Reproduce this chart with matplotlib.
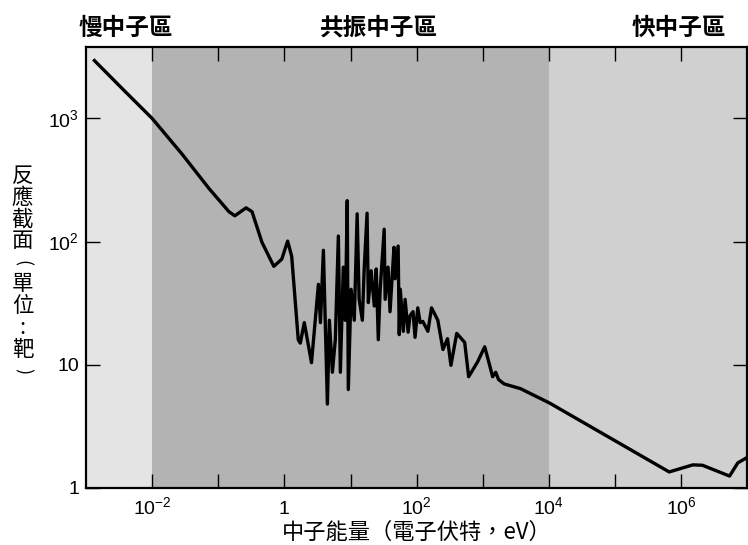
import numpy as np
import matplotlib.pyplot as plt
from matplotlib.ticker import FixedLocator, FixedFormatter, NullLocator
import matplotlib.transforms as mtransforms

plt.rcParams['font.family'] = ['Liberation Sans', 'Noto Sans CJK TC']
plt.rcParams['mathtext.fontset'] = 'custom'
plt.rcParams['mathtext.rm'] = 'Liberation Sans'
plt.rcParams['mathtext.it'] = 'Liberation Sans:italic'
plt.rcParams['axes.unicode_minus'] = False

# neutron energy (eV) and cross section (barn)
energy = [0.00134, 0.00355, 0.01, 0.0282, 0.0724, 0.145, 0.178, 0.263, 0.324,
          0.457, 0.692, 0.912, 1.12, 1.29, 1.62, 1.74, 2.0, 2.57, 3.27, 3.51,
          3.89, 4.47, 4.79, 5.32, 5.89, 6.55, 7.02, 7.78, 8.33, 8.92, 9.26,
          10.2, 11.4, 12.6, 13.5, 15.1, 16.1, 17.8, 18.6, 20.5, 22.9, 24.5,
          26.3, 28.1, 32.3, 33.4, 37.0, 39.6, 45.4, 47.3, 52.5, 54.6, 56.6,
          62.8, 66.9, 74.3, 79.4, 88.2, 94.6, 104, 113, 124, 148, 168, 209,
          250, 293, 330, 404, 533, 612, 838, 1070, 1230, 1410, 1570, 1730,
          2100, 3730, 10200, 660000, 1500000, 2100000, 5400000, 7200000, 9800000]
sigma = [2950, 1740, 1000, 515, 270, 175, 162, 188, 175,
         99, 63, 72, 101, 76, 16, 15, 22, 10.4, 45, 22,
         85, 4.8, 23, 8.7, 16, 111, 8.7, 62, 23, 215, 6.3,
         41, 23, 168, 34, 23, 60, 170, 32, 58, 30, 60,
         16, 41, 126, 34, 62, 27, 90, 50, 92, 17.6, 41,
         18.7, 34, 18.4, 25, 27, 16.7, 29, 22, 22.5, 18.7, 29, 23,
         13.3, 16.3, 9.9, 18, 15.2, 8.0, 10.6, 14, 10.6, 8.0, 8.7, 7.6,
         7.0, 6.4, 4.9, 1.35, 1.54, 1.53, 1.25, 1.6, 1.76]

region_edges = [1e-3, 1e-2, 1e4, 1e7]
region_names = ['慢中子區', '共振中子區', '快中子區']
region_colors = ['#e4e4e4', '#b3b3b3', '#d0d0d0']
region_label_x = [10**-2.4, 10**1.43, 10**5.97]

xtick_pos = [10.0**k for k in range(-2, 7)]
xtick_labels = ['$10^{-2}$', '', '1', '', '$10^{2}$', '', '$10^{4}$', '', '$10^{6}$']
ytick_pos = [1, 10, 100, 1000]
ytick_labels = ['1', '10', '$10^{2}$', '$10^{3}$']

xlabel = '中子能量（電子伏特，eV）'
# vertical y label: (char, rotation)
ylabel_chars = [('反', 0), ('應', 0), ('截', 0), ('面', 0), ('(', -90), ('單', 0),
                ('位', 0), (':', 0), ('靶', 0), (')', -90)]

fig = plt.figure(figsize=(7.48, 5.45), dpi=100)
ax = fig.add_axes([0.115, 0.1046, 0.884, 0.8092])

for i in range(3):
    ax.axvspan(region_edges[i], region_edges[i + 1], color=region_colors[i], lw=0, zorder=0)

ax.plot(energy, sigma, color='black', lw=2.4, solid_joinstyle='round', zorder=3)

ax.set_xscale('log')
ax.set_yscale('log')
ax.set_xlim(1e-3, 1e7)
ax.set_ylim(1, 10**3.58)

ax.xaxis.set_major_locator(FixedLocator(xtick_pos))
ax.xaxis.set_major_formatter(FixedFormatter(xtick_labels))
ax.xaxis.set_minor_locator(NullLocator())
ax.yaxis.set_major_locator(FixedLocator(ytick_pos))
ax.yaxis.set_major_formatter(FixedFormatter(ytick_labels))
ax.yaxis.set_minor_locator(NullLocator())
ax.tick_params(axis='both', direction='in', length=10, width=1, top=True, right=True,
               labelsize=14)
ax.tick_params(axis='x', pad=18.5)
ax.tick_params(axis='y', pad=5)
for t in ax.xaxis.get_major_ticks():
    t.label1.set_verticalalignment('baseline')
for sp in ax.spines.values():
    sp.set_linewidth(1.6)

ax.set_xlabel(xlabel, fontsize=16, family=['Noto Sans CJK TC', 'DejaVu Sans'])
ax.xaxis.set_label_coords(0.5, -0.1)
ax.xaxis.label.set_va('center')

for k, (ch, rot) in enumerate(ylabel_chars):
    fs = 15.5 if rot == 0 else 13
    fig.text(0.030, 1 - (176 + k * 21.7) / 545, ch, fontsize=fs, rotation=rot,
             family=['Noto Sans CJK TC', 'DejaVu Sans'], ha='center', va='center')

trans = mtransforms.blended_transform_factory(ax.transData, ax.transAxes)
for xpos, name in zip(region_label_x, region_names):
    ax.text(xpos, 1.043, name, transform=trans, ha='center', va='center',
            fontsize=17, fontweight='bold', family=['Noto Sans CJK TC', 'DejaVu Sans'])

fig.savefig('out.png', dpi=100)
